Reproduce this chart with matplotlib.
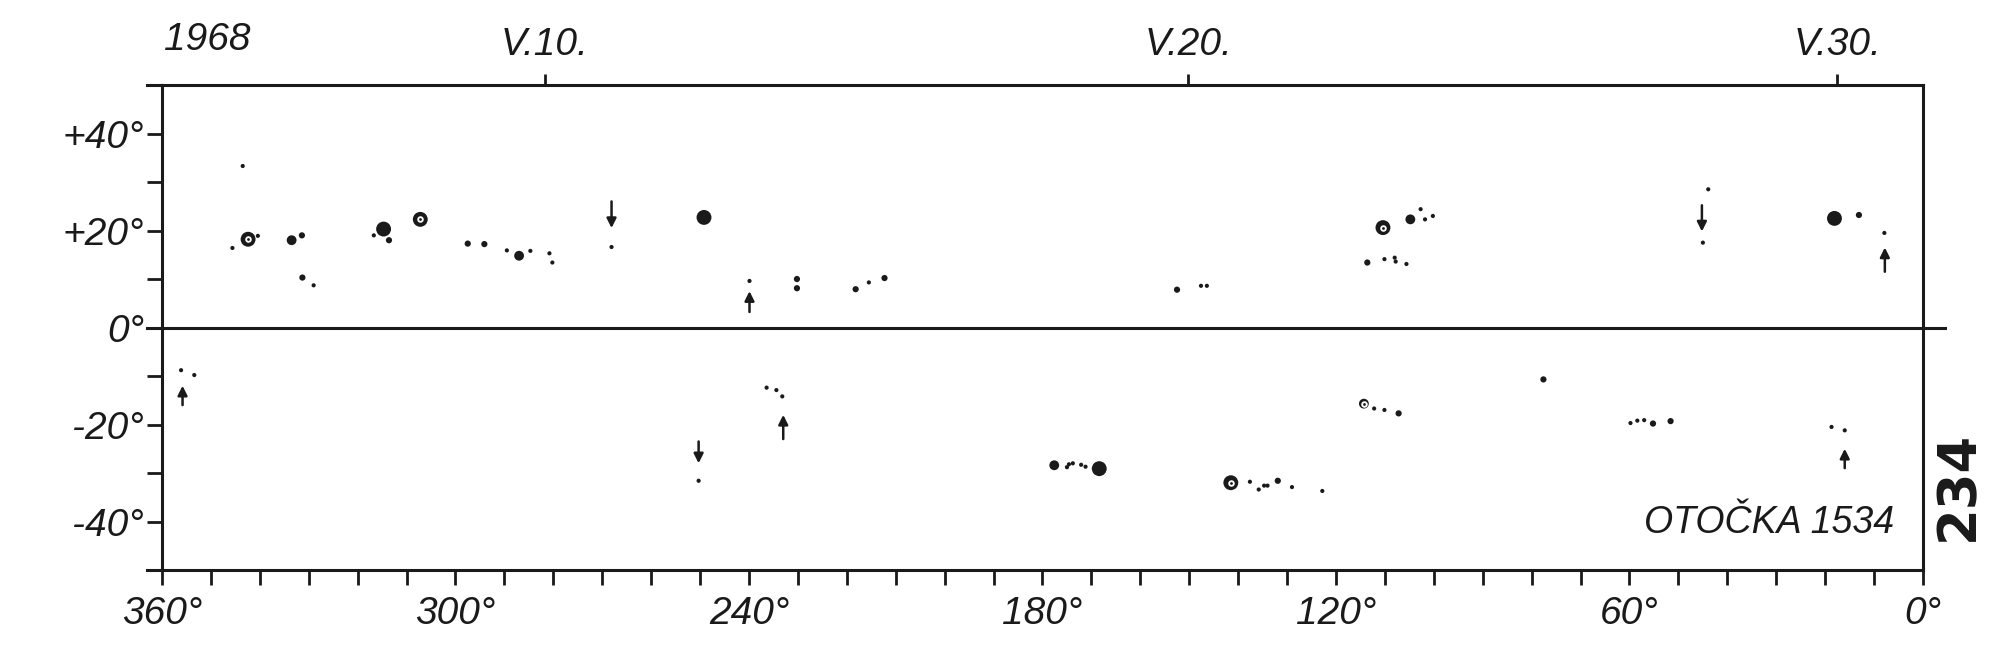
import numpy as np
import matplotlib.pyplot as plt

# sunspot groups: carrington longitude, latitude, size class (1 tiny .. 4 big)
spot_lon = [343.5, 345.6, 342.4, 340.4, 333.5, 331.4, 331.3, 329.0, 314.7, 316.7,
            313.6, 307.2, 297.5, 294.1, 289.5, 287.0, 284.7, 280.8, 280.2, 268.1,
            249.2, 239.9, 230.2, 230.2, 218.2, 215.5, 212.3, 152.5, 147.6, 146.4,
            110.4, 104.8, 102.7, 101.8, 100.2, 113.6, 110.1, 108.0, 107.8, 105.6,
            45.0, 43.9, 18.1, 13.1, 7.9,
            356.1, 353.4, 250.3, 236.4, 234.4, 233.2, 177.6, 175.0, 174.6, 173.8,
            172.1, 171.2, 168.4, 141.5, 137.6, 135.8, 134.7, 134.0, 131.9, 129.0,
            122.8, 114.3, 112.2, 110.1, 107.2, 77.6, 59.8, 58.4, 57.0, 55.2,
            51.6, 18.7, 16.0]
spot_lat = [33.3, 16.4, 18.2, 18.9, 18.0, 19.0, 10.3, 8.7, 20.3, 19.0,
            18.0, 22.3, 17.3, 17.2, 15.9, 14.8, 15.8, 15.3, 13.4, 16.6,
            22.7, 9.6, 10.0, 8.1, 7.9, 9.3, 10.2, 7.8, 8.6, 8.6,
            20.6, 22.3, 24.4, 22.3, 23.0, 13.4, 14.1, 14.4, 13.6, 13.1,
            17.5, 28.5, 22.5, 23.2, 19.5,
            -8.8, -9.8, -31.6, -12.4, -12.9, -14.2, -28.4, -28.8, -28.2, -28.0,
            -28.3, -28.7, -29.1, -32.0, -31.8, -33.4, -32.6, -32.6, -31.6, -32.9,
            -33.7, -15.7, -16.7, -17.0, -17.7, -10.7, -19.7, -19.2, -19.1, -19.8,
            -19.3, -20.5, -21.2]
spot_cls = [1, 1, 4, 1, 3, 2, 2, 1, 4, 1,
            2, 4, 2, 2, 1, 3, 1, 1, 1, 1,
            4, 1, 2, 2, 2, 1, 2, 2, 1, 1,
            4, 3, 1, 1, 1, 2, 1, 1, 1, 1,
            1, 1, 4, 2, 1,
            1, 1, 1, 1, 1, 1, 3, 1, 1, 1,
            1, 1, 4, 4, 1, 1, 1, 1, 2, 1,
            1, 3, 1, 1, 2, 2, 1, 1, 1, 2,
            2, 1, 1]

# spots drawn with a light umbra core
ring_lon = [342.4, 307.2, 110.4, 141.5, 114.3]
ring_lat = [18.2, 22.3, 20.6, -32.0, -15.7]

# arrows: longitude, tail latitude, head latitude
arr_lon = [355.8, 239.9, 233.0, 7.8, 16.0, 268.1, 250.3, 45.2]
arr_tail = [-16.0, 3.2, -23.0, 11.5, -29.0, 26.0, -23.5, 25.2]
arr_head = [-12.0, 7.5, -18.0, 16.5, -25.0, 20.5, -28.0, 19.8]

date_lon = [281.8, 150.2, 17.5]
date_lab = ['V.10.', 'V.20.', 'V.30.']

fam = ['Liberation Sans', 'DejaVu Sans']
ink = '#1a1a1a'

fig = plt.figure(figsize=(20, 6.57), dpi=100)
ax = fig.add_axes([0.081, 0.1324, 0.8805, 0.7382])
ax.set_xlim(360, 0)
ax.set_ylim(-50, 50)

size_map = {1: 9, 2: 20, 3: 50, 4: 115}
sizes = [size_map[c] for c in spot_cls]
ax.scatter(spot_lon, spot_lat, s=sizes, c=ink, linewidths=0, zorder=3)
ax.scatter(ring_lon, ring_lat, s=22, c='white', linewidths=0, zorder=4)
ax.scatter(ring_lon, ring_lat, s=4, c=ink, linewidths=0, zorder=5)

for x, t, h in zip(arr_lon, arr_tail, arr_head):
    ax.annotate('', xy=(x, h), xytext=(x, t),
                arrowprops=dict(arrowstyle='-|>', color=ink, lw=1.8,
                                mutation_scale=14, shrinkA=0, shrinkB=0))

# equator and frame extensions
ax.plot([363, -4.5], [0, 0], color=ink, lw=2.2, clip_on=False)
ax.plot([363, 360], [50, 50], color=ink, lw=2.2, clip_on=False)
ax.plot([363, 360], [-50, -50], color=ink, lw=2.2, clip_on=False)

for sp in ax.spines.values():
    sp.set_linewidth(2.2)
    sp.set_color(ink)

ax.set_xticks(np.arange(0, 361, 10))
ax.set_xticklabels([f'{v}°' if v % 60 == 0 else '' for v in range(0, 361, 10)])
ax.set_yticks(np.arange(-50, 41, 10))
ylabs = {40: '+40°', 20: '+20°', 0: '0°', -20: '-20°', -40: '-40°'}
ax.set_yticklabels([ylabs.get(v, '') for v in range(-50, 41, 10)])
ax.tick_params(axis='both', direction='out', length=11, width=2, color=ink,
               labelsize=28, labelcolor=ink)
ax.tick_params(axis='x', pad=8)
ax.tick_params(axis='y', pad=2)
for lab in ax.get_xticklabels() + ax.get_yticklabels():
    lab.set_family(fam)
    lab.set_style('italic')

top = ax.twiny()
top.set_xlim(360, 0)
top.set_xticks(date_lon)
top.set_xticklabels(date_lab)
top.tick_params(axis='x', direction='out', length=8, width=2, color=ink,
                labelsize=28, labelcolor=ink, pad=8)
for lab in top.get_xticklabels():
    lab.set_family(fam)
    lab.set_style('italic')
for sp in top.spines.values():
    sp.set_visible(False)

ax.text(350.7, 55.5, '1968', fontsize=28, family=fam, style='italic',
        color=ink, ha='center', va='bottom')
ax.text(6, -44, 'OTOČKA 1534', fontsize=27, family=fam, style='italic',
        color=ink, ha='right', va='bottom')
fig.text(0.979, 0.26, '234', fontsize=38, fontweight='bold', rotation=90,
         color=ink, ha='center', va='center')

fig.savefig('out.png', dpi=100, facecolor='white')
